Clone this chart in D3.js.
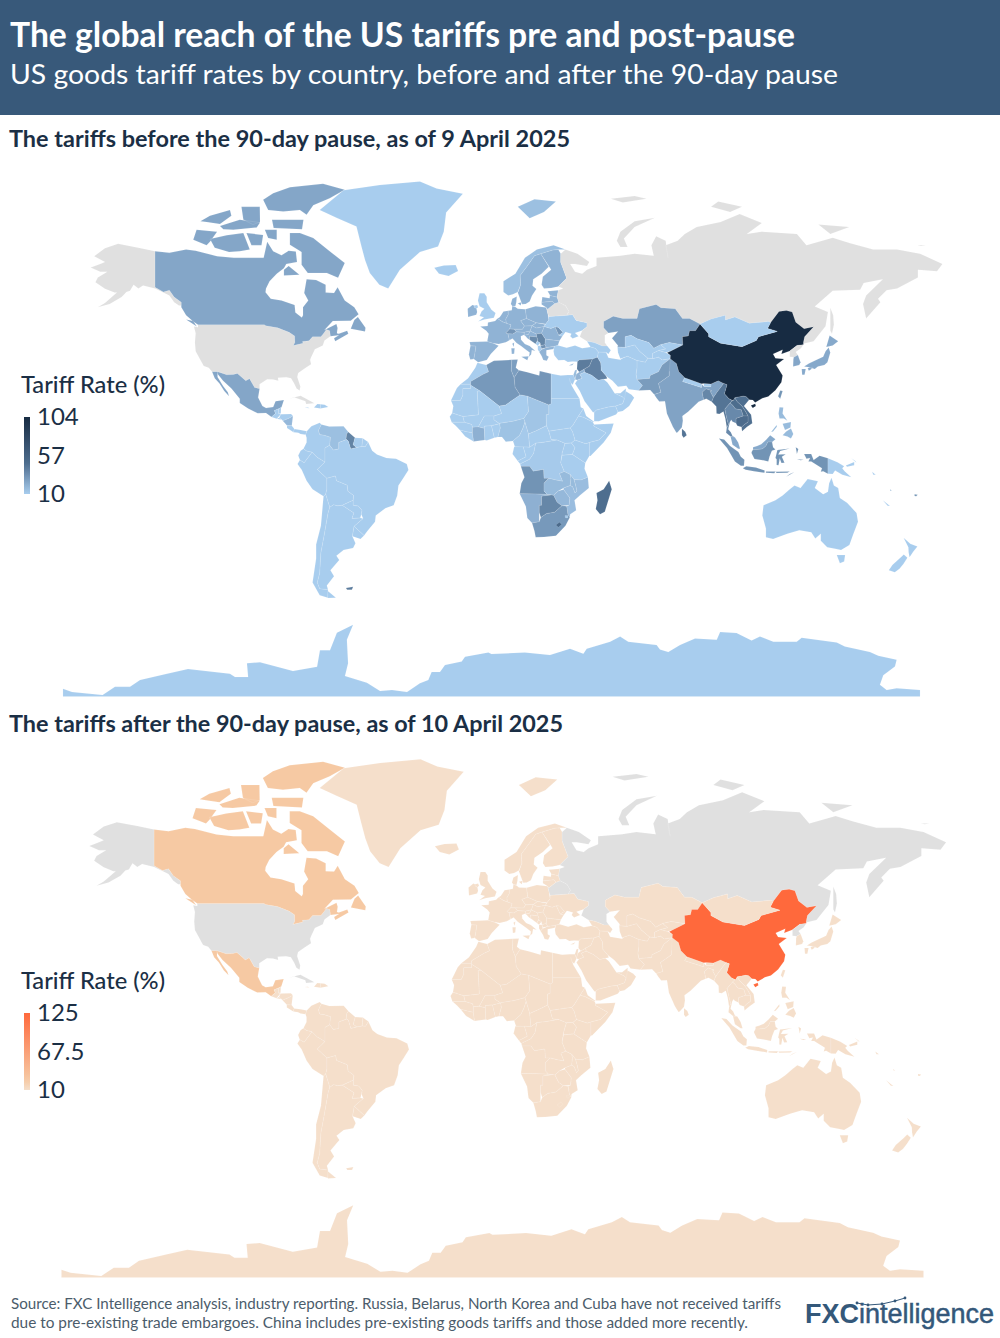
<!DOCTYPE html>
<html>
<head>
<meta charset="utf-8">
<script src="https://cdn.jsdelivr.net/npm/d3@7"></script>
<style>
html, body { margin: 0; padding: 0; background: #fff; }
svg { display: block; font-family: Lato, "Open Sans", sans-serif; }
</style>
</head>
<body>
<svg id="chart" width="1000" height="1338"></svg>
<script>
'use strict';

// Outlines are rough lon/lat rings: [name, ring, ring...]
var northAmerica = [
    ['United States',
     [[-141,69.6],[-148,70.4],[-156.5,71.3],[-162,70.3],[-166.5,68.4],[-162,67],[-164,66.5],[-168,65.6],[-164,64.5],[-161,64.5],[-165,63],[-166,61.7],[-162,59.9],[-158,58.8],[-157,58.8],[-162,55.8],[-165,54.5],[-160,55.5],[-155,57.5],[-153,59],[-151.5,59.3],[-150,61],[-148,60],[-146,60.8],[-141,60],[-138,59],[-135,58],[-133,56],[-131,55],[-130,55],[-130,56],[-133,57.5],[-135,59.5],[-137.5,59],[-141,60.3]],
     [[-123,49],[-95.2,49],[-94.6,48.7],[-89.6,48],[-84.8,46.5],[-82.5,45.3],[-82.4,43],[-83.1,42],[-79,42.8],[-79.2,43.4],[-76.5,43.6],[-75,45],[-71.5,45],[-70.3,46.2],[-69.2,47.4],[-67.8,47],[-67.5,45.2],[-70,43.7],[-70.7,42],[-74,40.7],[-75.5,38],[-76,36.9],[-75.6,35.3],[-78,33.9],[-81,32],[-81.4,30.5],[-80.1,26.8],[-80.4,25.2],[-81.7,26],[-82.7,28],[-84,30],[-86,30.4],[-89.5,30.2],[-89.3,29],[-91.5,29.5],[-94,29.6],[-97.2,27.7],[-97.2,25.9],[-99.3,26.4],[-101.4,29.8],[-103,29],[-104.8,30.5],[-106.5,31.8],[-108.2,31.4],[-111,31.3],[-114.8,32.5],[-117.1,32.5],[-118.5,34],[-120.6,34.6],[-122.4,37.5],[-124,40],[-124.3,43],[-124,46.2],[-124.7,48.4],[-123,48.2]]],
    ['Canada',
     [[-141,69.6],[-135,69.2],[-128,70],[-124,69.7],[-115,68.4],[-108,68],[-102,68],[-95.5,68],[-94,71.8],[-91.5,69.6],[-88,68.6],[-85,69.7],[-82,69.5],[-81.5,67],[-86,66.5],[-87,65.4],[-90,64],[-93,62],[-94.5,60],[-94.7,58.9],[-92.5,57],[-88,56.5],[-82.5,55.2],[-82.2,52.9],[-79.5,51.3],[-79,52],[-79,54.5],[-76.8,56.5],[-78.5,58.7],[-77.5,62.5],[-73.5,62.3],[-69.5,61],[-69.5,58.8],[-66,58.7],[-64.5,60.3],[-61.5,56.5],[-57.5,54.5],[-55.7,52.3],[-59,50.3],[-66.5,50.2],[-70,47.3],[-65,49.2],[-64.5,47.9],[-64.8,46.2],[-64,46],[-60.5,47],[-60,46],[-65.5,43.5],[-66,44.5],[-64,45.5],[-67.5,45.2],[-67.8,47],[-69.2,47.4],[-70.3,46.2],[-71.5,45],[-75,45],[-76.5,43.6],[-79.2,43.4],[-79,42.8],[-83.1,42],[-82.4,43],[-82.5,45.3],[-84.8,46.5],[-89.6,48],[-94.6,48.7],[-95.2,49],[-123,49],[-125,50],[-128,52],[-130,54.5],[-130,56],[-133,57.5],[-135,59.5],[-137.5,59],[-141,60.3]],
     [[-84.5,73.7],[-80.3,73.7],[-74.7,72.6],[-67.8,69.6],[-61.5,66.7],[-64.3,62.9],[-69,64.2],[-77,64.2],[-79.6,66.3],[-79.6,69.4],[-84.5,71.1]],
     [[-61.5,82.1],[-70.6,83.1],[-84.5,82.5],[-91.5,81.5],[-95.7,80.3],[-93.6,78.4],[-87.3,78.1],[-80.3,78.4],[-77.5,77.5],[-74.7,79.3],[-67.8,80.6]],
     [[-118,72.4],[-111,73.2],[-104,73.7],[-101.3,70],[-105.5,69.6],[-110,69.4],[-116,70.4]],
     [[-125,72.2],[-123.6,74.4],[-115,74],[-118,71.8],[-119.4,71]],
     [[-92,76.5],[-78.8,76.5],[-79.4,74.5],[-91.3,74.8]],
     [[-104.8,79],[-97.1,79],[-97,76],[-100,75.5],[-104,76.5]],
     [[-122,76.2],[-118,77.3],[-109.6,78.4],[-109,77.3],[-113.8,75.6],[-119.4,76]],
     [[-113.8,75.2],[-105.5,76.5],[-97,75.9],[-98.4,74.9],[-108.2,74.4],[-112.4,74.5]],
     [[-102.7,73.7],[-95.7,73.3],[-96.4,71],[-100.6,71]],
     [[-95,74.4],[-90,74.4],[-90,72.2],[-93.6,72.6]],
     [[-87,63.5],[-80.5,63.7],[-85,66],[-87,65]],
     [[-59,47.7],[-53,46.8],[-52.8,48],[-56,51.5],[-57.5,50.5]],
     [[-123.5,48.4],[-128,50.7],[-125,50.2]]],
    ['Greenland', [[-72,78.4],[-62,82],[-46.8,82.9],[-30,83.5],[-23,82.3],[-12,81.4],[-19,77.9],[-20,74],[-22.4,70.7],[-30,69.4],[-38.4,65],[-43.3,60],[-47,61],[-51,64.2],[-53,67.5],[-54.5,70.7],[-56.6,75.1],[-65,76.9]]],
    ['Iceland', [[-24,65.5],[-22,64],[-18,63.4],[-14,64.7],[-15,66.2],[-20,66.1]]],
    ['Mexico',
     [[-114.8,32.5],[-111,31.3],[-108.2,31.4],[-106.5,31.8],[-104.8,30.5],[-103,29],[-101.4,29.8],[-99.3,26.4],[-97.2,25.9],[-97.8,22.5],[-96,19],[-94.5,18.2],[-91.5,18.6],[-90.5,21],[-87,21.5],[-88,18.5],[-89.2,17.9],[-91,17.2],[-90.5,16],[-92.2,14.6],[-94.5,16.2],[-98,16.1],[-102,18],[-105.5,20.3],[-105.5,22],[-109,26],[-112.5,29],[-114.7,31.5]],
     [[-117.1,32.5],[-116,30],[-114,28],[-112,25],[-110,23],[-110.5,24.5],[-112.5,27],[-114.8,30.5],[-114.8,32.5]]],
    ['Guatemala', [[-92.2,14.6],[-90.5,16],[-91,17.2],[-89.2,17.9],[-89.2,15.9],[-88.3,15.7],[-90,13.8]]],
    ['Belize', [[-89.2,17.9],[-88.2,18.4],[-88.3,16],[-89.2,15.9]]],
    ['El Salvador', [[-90,13.8],[-89,14.3],[-87.8,13.4]]],
    ['Honduras', [[-89,14.3],[-88.3,15.7],[-84,15.8],[-83.2,15],[-85,14],[-87.5,13],[-87.8,13.4]]],
    ['Nicaragua', [[-87.5,13],[-85,14],[-83.2,15],[-83.7,11],[-85.7,11.1]]],
    ['Costa Rica', [[-85.7,11.1],[-83.7,11],[-82.6,9.6],[-83,8.3],[-85.7,10]]],
    ['Panama', [[-83,8.3],[-82.6,9.6],[-80,9.2],[-77.4,8.7],[-77.9,7.2],[-80,7.5],[-81,8]]],
    ['Cuba', [[-85,22],[-80,23.2],[-74.2,20.2],[-77.7,19.9],[-78,21],[-82.5,22.5]]],
    ['Haiti', [[-74.4,18.4],[-71.7,18],[-71.7,19.8],[-73,19.9]]],
    ['Dominican Republic', [[-71.7,18],[-68.4,18.6],[-69.9,19.6],[-71.7,19.8]]],
    ['Jamaica', [[-78.3,18.3],[-76.3,18.1],[-76.9,18.4]]]
];

var southAmerica = [
    ['Colombia', [[-77.9,7.2],[-77.4,8.7],[-75.5,10.7],[-72,12.2],[-71.3,11.5],[-72.5,9],[-72,7.3],[-70,7],[-67.5,6.2],[-67.8,2.8],[-69.8,1.7],[-69.8,-4.2],[-70.5,-3.8],[-73,-2.3],[-75.2,-0.1],[-77.5,0.4],[-78.8,1.4],[-77.5,4],[-77.5,6]]],
    ['Venezuela', [[-71.3,11.5],[-68,10.6],[-62,10.7],[-60,8.4],[-60.7,7.5],[-61,5.2],[-60.7,5.2],[-64,4],[-64,1.3],[-66.3,0.8],[-67.8,2.8],[-67.5,6.2],[-70,7],[-72,7.3],[-72.5,9]]],
    ['Guyana', [[-60,8.4],[-57.2,6],[-58,3],[-56.5,1.9],[-59,1.3],[-60,4.5],[-60.7,5.2],[-61,5.2],[-60.7,7.5]]],
    ['Suriname', [[-57.2,6],[-54,5.8],[-54.3,2.3],[-56.5,1.9],[-58,3]]],
    ['French Guiana', [[-54,5.8],[-51.7,4.2],[-52.9,2.2],[-54.3,2.3]]],
    ['Ecuador', [[-78.8,1.4],[-77.5,0.4],[-75.2,-0.1],[-78.5,-4.5],[-80.3,-3.4],[-81,-1.5],[-80,0.5]]],
    ['Peru', [[-80.3,-3.4],[-78.5,-4.5],[-75.2,-0.1],[-73,-2.3],[-70.5,-3.8],[-69.8,-4.2],[-73,-7.3],[-70.6,-9.5],[-69,-11],[-69,-15.5],[-69.5,-17.5],[-70.4,-18.3],[-75,-15.5],[-77.5,-12],[-79.5,-7.5],[-81.3,-5]]],
    ['Brazil', [[-51.7,4.2],[-50,0.5],[-48,-1],[-44,-2.5],[-40,-2.8],[-35.5,-5],[-34.8,-7.5],[-37,-11],[-39,-14],[-39.5,-18],[-41,-22],[-44.5,-23.2],[-48.5,-26],[-48.8,-28.5],[-52,-32],[-53.4,-33.7],[-57.6,-30.2],[-53.8,-27.2],[-54.6,-25.5],[-54.3,-24],[-55.8,-22.3],[-58,-22],[-58,-20],[-57.8,-18],[-60.2,-16.3],[-60.5,-13.8],[-65,-12],[-65.4,-10],[-69,-11],[-70.6,-9.5],[-73,-7.3],[-69.8,-4.2],[-69.8,1.7],[-67.8,2.8],[-66.3,0.8],[-64,1.3],[-64,4],[-60.7,5.2],[-60,4.5],[-59,1.3],[-56.5,1.9],[-54.3,2.3],[-52.9,2.2]]],
    ['Bolivia', [[-69,-11],[-65.4,-10],[-65,-12],[-60.5,-13.8],[-60.2,-16.3],[-57.8,-18],[-58,-20],[-62.6,-22],[-64.5,-22.2],[-66.2,-21.8],[-67.8,-22.8],[-69.5,-17.5],[-69,-15.5]]],
    ['Paraguay', [[-58,-20],[-58,-22],[-55.8,-22.3],[-54.3,-24],[-54.6,-25.5],[-55,-27],[-58.5,-27.2],[-57.7,-25],[-62.6,-22]]],
    ['Chile', [[-69.5,-17.5],[-67.8,-22.8],[-68.5,-25],[-70,-33],[-71.5,-40],[-72,-47],[-73,-50],[-72,-52],[-68.5,-52.3],[-68.6,-54.8],[-72,-54],[-75,-50],[-73.5,-42],[-73.5,-37],[-71.5,-30],[-70.4,-18.3]]],
    ['Argentina',
     [[-66.2,-21.8],[-64.5,-22.2],[-62.6,-22],[-57.7,-25],[-58.5,-27.2],[-55,-27],[-53.8,-27.2],[-57.6,-30.2],[-58.3,-34],[-57,-36.5],[-58,-38.3],[-62,-39],[-65,-41],[-63.8,-42.5],[-67.5,-46],[-66,-48],[-69,-51],[-68.5,-52.3],[-72,-52],[-73,-50],[-72,-47],[-71.5,-40],[-70,-33],[-68.5,-25],[-67.8,-22.8]],
     [[-68.6,-52.7],[-65.2,-54.8],[-68.6,-54.9]]],
    ['Uruguay', [[-57.6,-30.2],[-53.4,-33.7],[-54.9,-35],[-58.3,-34]]],
    ['Falkland Islands', [[-61,-51.8],[-58,-51.4],[-58.5,-52.3],[-60.5,-52.3]]]
];

var europe = [
    ['Portugal', [[-8.9,37],[-7.4,37.2],[-7,39],[-6.5,41.8],[-8.8,41.9],[-9.5,38.8]]],
    ['Spain', [[-8.8,41.9],[-6.5,41.8],[-7,39],[-7.4,37.2],[-5.6,36],[-2,36.8],[-0.3,39],[3,41.9],[0.7,42.8],[-1.8,43.4],[-9.2,43.2]]],
    ['France',
     [[-1.8,43.4],[0.7,42.8],[3,42.5],[6,43.1],[7.5,43.8],[6.9,46],[6,46.3],[7.6,47.6],[8.2,49],[6.2,49.5],[4.5,50],[2.5,51],[1.5,50.2],[-1.5,49.7],[-1.6,48.6],[-4.7,48.4],[-2.2,47],[-1.2,46]],
     [[8.7,42.6],[9.5,43],[9.3,41.5]]],
    ['Benelux', [[2.5,51],[4.5,50],[6.2,49.5],[6,50.8],[7,52.2],[7,53.4],[5,53.2],[4,52],[3.4,51.4]]],
    ['Germany', [[7,53.4],[8.5,53.6],[8.7,54.9],[10,54.6],[11,54],[14.2,53.9],[14.7,51],[12.2,50.3],[13.8,48.6],[13,47.5],[7.6,47.6],[8.2,49],[6.2,49.5],[6,50.8],[7,52.2]]],
    ['Denmark',
     [[8.1,55.5],[8.7,57],[10.6,57.7],[10.4,56],[10,54.8],[8.7,54.9]],
     [[11,55.7],[12.6,56],[12.2,55]]],
    ['Switzerland', [[6,46.3],[7.6,47.6],[9.6,47.5],[10.4,46.7],[9,45.9],[6.9,46]]],
    ['Italy',
     [[6.9,46],[9,45.9],[10.4,46.7],[13.7,46.5],[13.7,45.7],[12.3,45.2],[12.4,44],[14,42.5],[16,41.8],[18.4,40.1],[16.9,40.4],[16.6,38.8],[15.7,38],[16,39.5],[14,40.8],[12.4,41.8],[10.5,42.9],[8.8,44.4],[7.5,43.8]],
     [[12.5,38],[15.6,38.2],[15,36.7]],
     [[8.3,41],[9.7,41],[9.5,39.1],[8.5,39]]],
    ['Austria', [[9.6,47.5],[13,47.5],[13.8,48.6],[17,48.7],[16.2,46.9],[13.7,46.5],[10.4,46.7]]],
    ['Czechia', [[12.2,50.3],[14.7,51],[18.8,49.6],[17,48.7],[13.8,48.6]]],
    ['Poland', [[14.2,53.9],[18.5,54.8],[23,54.4],[23.6,52.5],[24,50.5],[22.7,49.2],[18.8,49.6],[14.7,51]]],
    ['Slovakia', [[17,48.7],[18.8,49.6],[22.5,49.1],[22.1,48.4],[18.8,47.9]]],
    ['Hungary', [[16.2,46.9],[17,48.7],[18.8,47.9],[22.1,48.4],[21,46.2],[18.8,45.9]]],
    ['Slovenia', [[13.7,46.5],[16.2,46.9],[15.5,45.8],[13.7,45.5]]],
    ['Croatia', [[13.7,45.5],[15.5,45.8],[16.2,46.9],[18.8,45.9],[19,44.9],[15.9,45.2],[16,44],[18.5,42.5],[15,44.5],[14.3,45.2]]],
    ['Bosnia', [[15.9,45.2],[19,44.9],[19.4,44],[18.5,42.5],[16,44]]],
    ['Serbia', [[18.8,45.9],[21,46.2],[22.6,44.2],[22.4,42.3],[20.6,41.9],[20.4,42.9],[19.2,43.5],[19.4,44],[19,44.9]]],
    ['Montenegro', [[18.5,42.5],[19.2,43.5],[20.4,42.9],[19.4,41.9]]],
    ['Albania', [[19.4,41.9],[20.6,41.9],[21,40.6],[20,39.7],[19.4,40.6]]],
    ['North Macedonia', [[20.6,41.9],[22.4,42.3],[23,41.3],[21,40.9]]],
    ['Greece', [[21,40.6],[23,41.3],[26.3,41.7],[26,40.8],[23,40.3],[23,38.5],[24,38],[23.2,36.5],[21.7,36.8],[21,38.3],[20,39.7]]],
    ['Bulgaria', [[22.4,42.3],[22.6,44.2],[28.5,43.6],[27.8,42],[26.3,41.7],[23,41.3]]],
    ['Romania', [[21,46.2],[22.1,48.4],[24.9,47.8],[26.6,48.3],[28.2,45.5],[29.7,45.2],[28.5,43.6],[22.6,44.2]]],
    ['Moldova', [[26.6,48.3],[28,48.2],[30,46.4],[28.2,45.5]]],
    ['Ukraine', [[24,50.5],[22.7,49.2],[22.1,48.4],[24.9,47.8],[26.6,48.3],[28,48.2],[30,46.4],[28.2,45.5],[29.7,45.2],[31,46.6],[33.5,46],[33,45.2],[34,44.4],[36.5,45.2],[35,46.3],[38,47.1],[40,48.3],[40,49.6],[35.5,50.4],[34,52.2],[31.5,52],[24,51.6]]],
    ['Belarus', [[23,54.4],[23.5,53.9],[26.5,55.6],[28.2,56],[31,55],[32.5,53.2],[31.5,52],[24,51.6],[23.6,52.5]]],
    ['Lithuania', [[21,55.3],[21,56],[25.5,56.3],[26.5,55.6],[23.5,53.9],[23,54.4]]],
    ['Latvia', [[21,56],[21.3,57.5],[24.3,57.2],[24.5,58],[27.5,57.5],[28.2,56],[26.5,55.6],[25.5,56.3]]],
    ['Estonia', [[24.3,58.3],[23.5,59.2],[28,59.5],[27.5,57.5],[24.5,58]]],
    ['Finland', [[22,60],[25,60.1],[28,60.5],[31.5,62.8],[29,66.9],[29,69],[28,70],[25.7,69.9],[20.6,69],[24,66],[25,65],[21.5,63.2],[21,61]]],
    ['Sweden', [[11.2,59],[11,58.8],[12.8,55.4],[14.3,55.5],[16,56.2],[17,58],[18.8,59.8],[17.2,60.7],[17.5,62.5],[21,64],[24,65.8],[20.6,69],[18,68.5],[15,66],[12,63.5],[12.2,61]]],
    ['Norway',
     [[5,59],[7,58],[9,58.3],[11,59],[12.2,61],[12,63.5],[15,66],[18,68.5],[20.6,69],[25.7,69.9],[28,70],[31,70],[26,71],[19,70],[14,68],[10,64],[5,62]],
     [[11,79],[16,76.8],[22,78],[27,80],[18,80.4]]],
    ['United Kingdom',
     [[-5,58.6],[-3,58.6],[-2,57.6],[-2,56],[0,53.7],[1.7,52.7],[1,51.2],[-3,50.7],[-5.6,50],[-3.2,51.4],[-5,51.8],[-4.2,53.2],[-3,54],[-5,54.8],[-5.7,56.5]],
     [[-7.3,55],[-6,55.2],[-5.6,54.5],[-6.3,54.1],[-7.3,54.5]]],
    ['Ireland', [[-10,54],[-8,55.2],[-7.3,55],[-7.3,54.5],[-6.3,54.1],[-6,53],[-6.4,52.2],[-9.8,51.5]]],
    ['Russia',
     [[28,59.5],[30,60],[28,60.5],[31.5,62.8],[29,66.9],[29,69],[31,70],[36,69],[41,67],[40,66],[35,66.5],[33,66.5],[35,64.5],[38,64],[40,65],[44,66],[44,68],[54,68.5],[60,69],[68,68.5],[67,71],[69,73],[73,72],[74,68],[73,71],[78,72],[81,73.5],[86,75],[96,76],[104,77.6],[113.3,75.8],[107,73.5],[113,74],[128,73.5],[132,71],[143,72.7],[150,71.5],[160,70],[170,70],[179.6,69],[189,66.5],[186.7,64.6],[178.7,65],[178.7,63],[170,60],[165.6,59.5],[162,57],[163,56],[157,51],[155.7,55.5],[157,58],[164,62.5],[156,61.5],[154.5,59.6],[143,59.3],[135.5,54.7],[141,53],[140,48.5],[135,43.5],[131,42.7],[130.7,42.3],[130.7,43],[131.2,45],[135,48.3],[131,47.7],[127.5,49.8],[126,53],[123.6,53.5],[120.5,53.2],[117,49.7],[116,50],[108,49.5],[102,51.5],[98,50.5],[98,52],[92,50.8],[87.4,49.2],[83,51],[80,51],[77,54],[71,54.3],[69,55.3],[62,54],[61,51],[55,51],[51,51.7],[47,50],[47,48],[49,46.3],[47.5,45.5],[47.5,43],[48.5,41.8],[46.5,41.8],[43,43],[40,43.5],[37,45],[38,47.1],[40,48.3],[40,49.6],[35.5,50.4],[34,52.2],[31.5,52],[32.5,53.2],[31,55],[28.2,56],[27.5,57.5]],
     [[142,54.3],[143.2,52],[143.5,49],[142.7,46],[142,47],[142,51]],
     [[52.5,72],[54,70.6],[57,70.6],[55.5,72.5],[60,75],[68.5,76.9],[60,76.2],[54,74]],
     [[95,80],[105,79],[100,78],[92,79]],
     [[137,75.5],[150,75],[142,73.5]],
     [[178.5,71],[182,71],[180,70.8]],
     [[50,80.5],[60,81],[65,80.5],[55,79.8]]]
];

var asia = [
    ['Turkey', [[26,40],[26.3,41.7],[28,42],[31.5,41.2],[35,42],[38,41],[41.5,41.5],[43.5,41],[44.8,39.7],[44.4,37.8],[42.3,37.2],[36.7,36.8],[36,36.2],[34,36.3],[32,36.1],[30.5,36.8],[28,36.7],[26.3,38.5]]],
    ['Cyprus', [[32.4,34.8],[34.5,35.6],[33.8,34.9]]],
    ['Syria', [[36,36.2],[36.7,36.8],[42.3,37.2],[41,34.5],[38.8,33.4],[36.8,32.4],[35.8,33.5]]],
    ['Iraq', [[42.3,37.2],[44.4,37.8],[45.8,35.8],[46,33],[48,30.9],[48.5,29.9],[47,29.6],[44.7,29.2],[42,31.1],[39,32.3],[38.8,33.4],[41,34.5]]],
    ['Jordan', [[36.8,32.4],[38.8,33.4],[39,32.3],[37,31.5],[38,30],[36,29.3],[35,29.5],[35.5,31.5]]],
    ['Israel', [[35,29.5],[35.5,31.5],[35.8,33.2],[35,33],[34.3,31.2]]],
    ['Saudi Arabia', [[36,29.3],[38,30],[37,31.5],[39,32.3],[42,31.1],[44.7,29.2],[47,29.6],[48.5,28.5],[50,26.5],[51.6,24.2],[55,22.7],[55.7,22],[55,20],[52,19],[49,18.6],[44,17.4],[43,16.5],[42.5,16.5],[39,21],[37,25],[35,28]]],
    ['Yemen', [[43,12.8],[45,12.8],[52.2,15.6],[53,16.6],[52,19],[49,18.6],[44,17.4],[43,16.5]]],
    ['Oman', [[55,22.7],[56.3,24.9],[58.7,23.6],[59.8,22.4],[57.7,19],[55,17],[53,16.6],[52,19],[55,20],[55.7,22]]],
    ['UAE', [[51.6,24.2],[54,24.2],[56.3,26],[56.3,24.9],[55.7,22],[55,22.7]]],
    ['Iran', [[44.8,39.7],[48,39.6],[49,37.6],[54,36.9],[54.7,37.4],[57,38.2],[61,36.6],[61,34],[60.6,31.5],[61,29.5],[63.3,27.2],[61.6,25.2],[57.5,25.7],[56.5,27.1],[53,26.7],[50.7,29],[48.8,30.3],[48,30.9],[46,33],[45.8,35.8],[44.4,37.8]]],
    ['Caucasus', [[41.5,41.5],[40,43.5],[43,43],[46.5,41.8],[48.5,41.8],[50,40.3],[49,39],[48,39.6],[44.8,39.7],[43.5,41]]],
    ['Kazakhstan', [[51,51.7],[55,51],[61,51],[62,54],[69,55.3],[71,54.3],[77,54],[80,51],[83,51],[87.4,49.2],[85.5,47],[83,47],[82.5,45.3],[80,45],[80.2,42.2],[74.5,43],[70.9,42.3],[68,41],[66,43],[61,44.3],[58.5,45.5],[56,45],[56,41.3],[52.8,41.5],[53,42],[50.5,44.5],[53,46.8],[49,46.3],[47,48],[47,50]]],
    ['Uzbekistan', [[56,45],[58.5,45.5],[61,44.3],[66,43],[68,41],[70.9,42.3],[73,40.8],[70,40.2],[67.5,39.2],[67.5,37.3],[65.5,37.5],[62,40],[60,42.2],[56,41.3]]],
    ['Turkmenistan', [[52.8,41.5],[56,41.3],[60,42.2],[62,40],[65.5,37.5],[64.5,36],[61,36.6],[57,38.2],[54,37.3],[53,39.5]]],
    ['Kyrgyzstan', [[70.9,42.3],[74.5,43],[80.2,42.2],[75,40],[73,39.5],[70,40.2],[73,40.8]]],
    ['Tajikistan', [[67.5,39.2],[70,40.2],[73,39.5],[75,38.5],[74.9,37.3],[71.5,36.8],[70,37.8],[67.5,37.3]]],
    ['Afghanistan', [[61,36.6],[64.5,36],[65.5,37.5],[67.5,37.3],[70,37.8],[71.5,36.8],[74.9,37.3],[71.5,35],[70,32.5],[66.5,31],[66.3,29.9],[61,29.5],[60.6,31.5],[61,34]]],
    ['Pakistan', [[61.6,25.2],[63.3,27.2],[61,29.5],[66.3,29.9],[66.5,31],[70,32.5],[71.5,35],[74.9,37.3],[77.5,35.5],[74.5,32.5],[74.5,30.9],[70,28],[71,24.5],[68.2,23.7],[66.5,25.4]]],
    ['India', [[74.9,37.3],[77.5,35.5],[78.5,32.5],[81,30.2],[80.1,28.7],[88,26.4],[88,27.9],[89,26.8],[92,26.8],[92,27.8],[95,29],[97.3,28],[94.5,24.5],[93,22.5],[91.7,24.8],[92.3,25.1],[89.9,25.9],[88.3,24.5],[88.9,21.6],[86.8,20.8],[82.4,16.7],[80,15],[80.2,13],[79.8,10.3],[78,8.3],[77.5,8.1],[76,10.5],[73.5,16],[72.7,21],[70.3,20.9],[69,22.5],[68.2,23.7],[71,24.5],[70,28],[74.5,30.9],[74.5,32.5]]],
    ['Nepal', [[80.1,28.7],[81,30.2],[88,27.9],[88,26.4]]],
    ['Bhutan', [[89,26.8],[89,28],[92,27.8],[92,26.8]]],
    ['Bangladesh', [[88.3,24.5],[89.9,25.9],[92.3,25.1],[91.7,24.8],[93,22.5],[92.3,20.8],[90,22],[88.9,21.6]]],
    ['Sri Lanka', [[79.8,9.7],[81.2,8.5],[81.8,7],[80.5,6],[79.8,7]]],
    ['China',
     [[73.6,39.4],[75,40],[80.2,42.2],[80,45],[82.5,45.3],[83,47],[85.5,47],[87.4,49.2],[91,46],[91,45],[96,42.8],[105,41.6],[111,43.7],[111.9,45],[119.8,46.8],[115.7,47.8],[117,49.7],[120.5,53.2],[123.6,53.5],[126,53],[127.5,49.8],[131,47.7],[135,48.3],[131.2,45],[130.7,43],[130.7,42.3],[128,42],[125,40.1],[121.5,39],[122,40.5],[118,39],[119,37.5],[122.6,37.2],[119.3,35],[122,31],[121.5,28.5],[119,25.3],[116,22.9],[113.5,22.2],[110.5,20.5],[109.5,21.5],[108,21.6],[106.7,22.8],[105.5,23],[102,22.4],[101.3,21.2],[99.5,22],[97.6,24],[98.7,27.5],[97.3,28],[95,29],[92,27.8],[89,28],[88,27.9],[81,30.2],[78.5,32.5],[77.5,35.5],[74.9,37.3],[75,38.5]],
     [[108.7,19.3],[110.5,20],[110.8,19],[109.5,18.2]]],
    ['Taiwan', [[120.1,23],[121,25.2],[122,25],[121,22]]],
    ['Mongolia', [[87.4,49.2],[92,50.8],[98,52],[98,50.5],[102,51.5],[108,49.5],[116,50],[117,49.7],[115.7,47.8],[119.8,46.8],[111.9,45],[111,43.7],[105,41.6],[96,42.8],[91,45],[91,46]]],
    ['North Korea', [[125,40.1],[128,42],[130.7,42.3],[129.7,41],[127.5,39.7],[128.4,38.6],[126.7,37.8],[125,38]]],
    ['South Korea', [[126.7,37.8],[128.4,38.6],[129.5,36],[129,35],[126.4,34.4],[126.5,37]]],
    ['Japan',
     [[131,34.4],[133,35.5],[136.5,37],[139,38],[140,40],[141.3,41.3],[142,39.5],[140.8,36],[139.5,35],[136.8,34.4],[135.5,33.5],[132.5,34.2]],
     [[140.3,41.5],[141.7,45.4],[145.3,43.5],[143,42]],
     [[130,33.5],[131.7,33.5],[131.2,31.3],[130.2,31.3]],
     [[132.5,33.8],[134.5,34.2],[134,33.4],[133,32.8]]],
    ['Myanmar', [[97.3,28],[98.7,27.5],[97.6,24],[99.5,22],[101,21.2],[100,20.3],[97.8,17.8],[98.5,14.5],[99.3,11.5],[98.6,10.2],[98,14],[97.2,16.8],[95.5,15.8],[94.3,16],[94.2,18.8],[92.3,20.8],[93,22.5],[94.5,24.5]]],
    ['Thailand', [[100,20.3],[101,19.5],[102.2,17.9],[104.7,17.5],[105.5,15],[102.5,14],[102.5,12],[100.9,12.7],[100.5,13.4],[99.9,12.5],[99.2,9.5],[100.3,8.3],[101,6.7],[102,6.2],[100.2,6.5],[98.3,8],[98.6,10.2],[99.3,11.5],[98.5,14.5],[97.8,17.8]]],
    ['Laos', [[101.3,21.2],[102,22.4],[103,20.8],[105,19],[106.5,16.8],[107.5,15],[105.5,15],[104.7,17.5],[102.2,17.9],[101,19.5],[100,20.3],[101,21.2]]],
    ['Vietnam', [[102,22.4],[105.5,23],[106.7,22.8],[108,21.6],[105.8,19],[108.8,15.5],[109.3,12],[107,10.4],[105,8.7],[104.8,10.4],[106,11.5],[107.5,12.5],[107.5,15],[106.5,16.8],[105,19],[103,20.8]]],
    ['Cambodia', [[102.5,14],[105.5,15],[107.5,15],[107.5,12.5],[106,11.5],[104.8,10.4],[103,11],[102.5,12]]],
    ['Malaysia',
     [[100.2,6.5],[102,6.2],[103.4,4],[104.2,1.4],[103.4,1.4],[101,3],[100.4,5.5]],
     [[109.6,2],[111.3,2.5],[113,3.2],[115,5],[116.8,7],[119,5.3],[117.6,4.2],[115.8,4.2],[115,2.5],[113.5,1.3],[111,1],[109.6,1]]],
    ['Indonesia',
     [[109,0],[109.6,1],[111,1],[113.5,1.3],[115,2.5],[115.8,4.2],[117.6,4.2],[118,2],[119,1],[117.5,0.5],[116.5,-2],[116,-4],[113,-3.3],[110.2,-2.9],[109,-0.5]],
     [[95.3,5.6],[97.5,5.2],[100,2.5],[103.5,0],[104.5,-2],[106,-3.2],[105.8,-5.8],[104.5,-5.8],[102,-4],[100.3,-1],[98.7,1.7]],
     [[105.3,-6.8],[106.8,-6],[110.8,-6.5],[114.5,-7.7],[114.4,-8.7],[110,-8],[106.5,-7.4]],
     [[119.8,0.8],[125,1.5],[121,0.4],[120.2,-1],[123.3,-0.9],[121.7,-2],[122.8,-4.5],[121.5,-4.6],[120.8,-2.7],[120.3,-5.5],[119.5,-5.4],[119.5,-3],[119,-2.5]],
     [[115,-8.2],[119,-8.2],[118.5,-8.9],[115,-8.7]],
     [[119,-8.3],[125,-8.2],[124,-8.7],[119.5,-8.8]],
     [[123.5,-10.3],[127,-8.4],[125,-9.2]],
     [[127.5,2],[128.6,1.3],[128,-0.8]],
     [[128,-3],[130.8,-3.2],[129.5,-3.5]],
     [[131,-0.8],[134,-0.8],[135,-3.3],[137.5,-1.6],[141,-2.6],[141,-9.1],[139,-8],[138,-8.3],[138.5,-6.8],[134,-4],[132.8,-4],[133.5,-2.5],[132,-2.8]]],
    ['Philippines',
     [[120.3,16],[120.7,18.5],[122.3,18.4],[122,16],[124,13],[122.5,14],[120.7,14]],
     [[122,7],[123.5,8.6],[125.5,9.8],[126.5,7.5],[125.5,5.7],[124,6.5]],
     [[122,11.8],[125.5,12.5],[125.3,10.2],[123,9.2]],
     [[117.2,8.4],[119.5,11.3],[119.6,10.5],[118,8.6]]]
];

var oceania = [
    ['Papua New Guinea',
     [[141,-2.6],[145,-4.3],[147.8,-6],[147,-6.8],[148,-8],[150.8,-10.5],[147,-9.5],[144,-7.7],[143,-9.2],[141,-9.1]],
     [[148.5,-5.6],[152,-4.2],[152,-5.5],[149,-6.2]],
     [[150.8,-2.6],[153,-4.5],[152.5,-3.8]]],
    ['Solomon Islands', [[159.5,-8.3],[161,-9.5],[160,-9.5]]],
    ['Vanuatu', [[167,-15.5],[167.8,-16.2],[167,-16]]],
    ['Fiji', [[177.3,-17.5],[178.6,-17.7],[178,-18.3],[177.3,-18.2]]],
    ['New Caledonia', [[164,-20],[167,-22.3],[166,-22.2]]],
    ['Australia',
     [[114,-22],[113.5,-26],[115,-31],[115,-34.3],[118,-35],[124,-33],[129,-31.7],[134,-32.5],[135.7,-34.8],[138,-33],[138,-35.6],[140.7,-38],[144,-38.5],[146.5,-39],[150,-37.2],[151.5,-33.5],[153.6,-28.5],[153,-25],[149,-21],[146,-19],[145.3,-15],[143.5,-14],[142.5,-10.8],[141.5,-13],[141,-16.5],[139,-17.5],[135.5,-15],[136.8,-12.2],[132.5,-11.3],[129.5,-15],[127,-14],[125,-15.5],[122,-18],[119,-20]],
     [[144.7,-40.8],[148.2,-40.8],[147.8,-43],[146,-43.6]]],
    ['New Zealand',
     [[172.7,-34.5],[175.5,-36.7],[178.5,-37.7],[176.8,-39.5],[175.2,-41.6],[174.8,-39.8],[174.7,-38]],
     [[172.8,-40.6],[174.3,-41.7],[172.7,-43.8],[171,-45.5],[169,-46.7],[166.5,-46],[168,-44.2],[171,-42]]],
    ['Antarctica', [[-179.6,-77.4],[-175.8,-78],[-163,-78.6],[-157.8,-77],[-151.5,-77],[-147.3,-75.6],[-136,-74.3],[-127.2,-73.3],[-109.6,-74.3],[-107.5,-75],[-102,-75],[-102.5,-72],[-97,-71.8],[-83.2,-73.7],[-73.1,-72.8],[-71.9,-69],[-67.7,-69],[-64.8,-64.6],[-58,-62.5],[-60.6,-66.4],[-60.1,-72],[-61.4,-74.8],[-52.2,-76.2],[-46.7,-77.8],[-41.7,-77.6],[-35.4,-78],[-30,-76.3],[-26.5,-75.6],[-25.1,-73.9],[-21.6,-73.9],[-19.5,-72.4],[-12.5,-71.6],[-11.1,-70.5],[-1.3,-69.5],[0,-69.9],[14,-69.5],[24.5,-70.1],[32.9,-68.6],[38.5,-69.8],[39.9,-68.6],[49.7,-66.9],[53.9,-65.6],[57.3,-66.9],[69.2,-67.7],[70.6,-68.8],[74.1,-69.4],[79,-67.7],[85.3,-66.1],[94.4,-66.4],[95.8,-64.4],[102.7,-64.7],[109,-66.6],[112.5,-65.6],[118.1,-66.9],[127.9,-66.9],[130,-65.9],[144.7,-67.1],[148.1,-68.1],[158.6,-69.4],[162.1,-70.3],[169.8,-71.2],[169.1,-72.7],[164.2,-74.6],[162.8,-76.6],[165.6,-77.6],[169.8,-77.3],[179.6,-77.6],[179.6,-78.9],[-179.6,-78.9]]]
];

var africa = [
    ['Morocco', [[-5.9,35.8],[-2.2,35],[-1.2,32.5],[-3.5,31.5],[-8.7,28.7],[-8.7,27.7],[-13,27.7],[-9.8,30],[-6.8,34]]],
    ['Western Sahara', [[-13,27.7],[-8.7,27.7],[-8.7,26],[-12,26],[-12,23.4],[-13,21.3],[-17,21.3],[-14.5,26.2]]],
    ['Algeria', [[-2.2,35],[1,36.5],[8.5,36.9],[8.3,33],[9.5,30.2],[9.9,26.5],[12,23.5],[5.8,19.4],[3.2,19],[-4.8,25],[-8.7,27.3],[-8.7,28.7],[-3.5,31.5],[-1.2,32.5]]],
    ['Tunisia', [[8.5,36.9],[11,37],[10.2,34],[11.5,33],[9.5,30.2],[8.3,33]]],
    ['Libya', [[11.5,33],[15,32.3],[20,31],[20.2,32.7],[25,31.7],[25,20],[24,19.5],[15,23],[12,23.5],[9.9,26.5],[9.5,30.2]]],
    ['Egypt', [[25,31.7],[29,31],[32,31.2],[34.3,31.2],[35,29.5],[34,27.5],[33,28.5],[32.6,30],[33.7,27],[36.9,22],[25,22]]],
    ['Sudan', [[25,22],[36.9,22],[37.4,18.5],[38.5,18],[36.5,15],[34,11],[33,10],[28,9.3],[24,8.7],[23,11],[22.9,15.5],[24,15.7],[24,19.5],[25,20]]],
    ['South Sudan', [[24,8.7],[28,9.3],[33,10],[34,8.5],[35,5],[33.5,3.8],[30.8,3.6],[27.5,5],[25,5.2]]],
    ['Chad', [[15,23],[24,19.5],[24,15.7],[22.9,15.5],[23,11],[19,9],[15.5,7.5],[14,12.5],[13.5,14],[15.5,16.8]]],
    ['Niger', [[12,23.5],[15,23],[15.5,16.8],[13.5,14],[9,12.8],[3.7,12],[3.4,11.8],[1,13.4],[1,15],[4.2,16],[3.2,19],[5.8,19.4]]],
    ['Mali', [[-6,25],[-4.8,25],[3.2,19],[4.2,16],[1,15],[-3,15],[-5.5,10.5],[-8,10.3],[-8.3,11.5],[-11.4,12.4],[-12,14.8],[-5.5,15.5]]],
    ['Mauritania', [[-8.7,27.3],[-4.8,25],[-6,25],[-5.5,15.5],[-12,14.8],[-16.5,16.2],[-16,19],[-17,21.3],[-13,21.3],[-12,23.4],[-12,26],[-8.7,26]]],
    ['Senegal', [[-16.5,16.2],[-12,14.8],[-11.4,12.4],[-16.7,12.4],[-17.5,14.7]]],
    ['Guinea', [[-16.7,12.4],[-11.4,12.4],[-8.3,11.5],[-8,10.3],[-8,8],[-10.5,8.5],[-13.3,9.2],[-15,11]]],
    ['Liberia', [[-13.3,9.2],[-10.5,8.5],[-8,8],[-7.5,4.4],[-11,6.5]]],
    ["Cote d'Ivoire", [[-8,10.3],[-5.5,10.5],[-3,9.9],[-2.8,5],[-7.5,4.4],[-8,8]]],
    ['Burkina Faso', [[-5.5,10.5],[-3,15],[1,15],[1,13.4],[3.4,11.8],[0,11],[-3,10.8],[-3,9.9]]],
    ['Ghana', [[-3,10.8],[0,11],[1.2,6],[-2,4.8],[-2.8,5],[-3,9.9]]],
    ['Benin', [[0,11],[3.4,11.8],[3.7,10],[2.7,6.3],[1.2,6]]],
    ['Nigeria', [[3.7,12],[9,12.8],[13.5,14],[14,12.5],[13.2,10],[11.8,7],[9,4.6],[6,4.3],[4.4,6.3],[2.7,6.3],[3.7,10],[3.4,11.8]]],
    ['Cameroon', [[14,12.5],[15.5,7.5],[16,2],[9.8,2.2],[9,4.6],[11.8,7],[13.2,10]]],
    ['Central African Republic', [[15.5,7.5],[19,9],[23,11],[24,8.7],[25,5.2],[27.5,5],[22,4.1],[18.5,3.7],[16,2]]],
    ['Gabon', [[9.5,2.2],[13.3,2.2],[14.5,-2],[11,-3.8],[8.8,-0.8]]],
    ['Congo', [[13.3,2.2],[16,2],[18.5,3.7],[17.7,-0.5],[16,-3],[12,-5],[11,-3.8],[14.5,-2]]],
    ['DR Congo', [[18.5,3.7],[22,4.1],[27.5,5],[30.8,3.6],[29.6,-0.5],[29,-4.5],[30.5,-8.2],[28.5,-9],[29.8,-12.2],[27,-11.7],[24,-11],[22,-11],[21.8,-7.3],[17.5,-8],[16,-6],[12.3,-6],[12,-5],[16,-3],[17.7,-0.5]]],
    ['Uganda', [[30.8,3.6],[33.5,3.8],[35,1.8],[33.9,-1],[29.6,-1.4],[29.6,-0.5]]],
    ['Kenya', [[33.9,-1],[35,1.8],[33.5,3.8],[35,5],[39.5,3.5],[41,4],[41,-1.7],[39.3,-4.6]]],
    ['Tanzania', [[29.6,-1.4],[33.9,-1],[39.3,-4.6],[39,-7],[40.4,-10.5],[37.5,-11.7],[34.6,-11.5],[33,-9.4],[30.5,-8.2],[29,-4.5]]],
    ['Ethiopia', [[34,8.5],[33,10],[34,11],[36.5,15],[38.5,14.5],[42.5,12.5],[43,11.5],[42.8,10.9],[48,8],[45,5],[41,4],[39.5,3.5],[35,5]]],
    ['Eritrea', [[36.5,15],[38.5,18],[39.7,15],[43,12.6],[42.5,12.5],[38.5,14.5]]],
    ['Somalia', [[43,11.5],[51.2,11.9],[50,8],[47,4],[41.5,-1.7],[41,-1.7],[41,4],[45,5],[48,8],[42.8,10.9]]],
    ['Angola', [[12.3,-6],[16,-6],[17.5,-8],[21.8,-7.3],[22,-11],[24,-11],[22,-13],[22,-16.2],[23.4,-17.6],[18.5,-17.4],[11.8,-17.3],[12.5,-13],[13.8,-10.5]]],
    ['Zambia', [[22,-13],[24,-11],[27,-11.7],[29.8,-12.2],[28.5,-9],[30.5,-8.2],[33,-9.4],[33.3,-11],[33,-14],[30.2,-15],[28,-16.2],[26,-17.9],[23.4,-17.6],[22,-16.2]]],
    ['Malawi', [[33,-9.4],[34.6,-11.5],[35.3,-14],[35.8,-16.2],[35,-17],[34,-14.5],[33,-14],[33.3,-11]]],
    ['Mozambique', [[34.6,-11.5],[37.5,-11.7],[40.4,-10.5],[40.8,-15],[37,-18],[34.8,-20],[35.5,-24],[33,-25.5],[32.8,-26.8],[32,-25.5],[31.5,-22.4],[32.5,-22],[32.8,-19],[30.2,-15.6],[30.2,-15],[33,-14],[34,-14.5],[35,-17],[35.8,-16.2],[35.3,-14]]],
    ['Zimbabwe', [[26,-17.9],[28,-16.2],[30.2,-15.6],[32.8,-19],[32.5,-22],[29.5,-22.2],[27.5,-20.8]]],
    ['Namibia', [[11.8,-17.3],[18.5,-17.4],[23.4,-17.6],[25,-17.8],[21,-18.3],[21,-22],[20,-22],[20,-28.5],[17,-28.9],[15,-27],[14.4,-22.5]]],
    ['Botswana', [[21,-18.3],[25,-17.8],[26,-17.9],[27.5,-20.8],[29.5,-22.2],[26.5,-24.7],[23,-25.3],[20.7,-26.8],[20,-24.8],[20,-22],[21,-22]]],
    ['South Africa', [[17,-28.9],[20,-28.5],[20.7,-26.8],[23,-25.3],[26.5,-24.7],[29.5,-22.2],[31.5,-22.4],[32,-25.5],[32.8,-26.8],[31,-30],[27,-33.8],[22,-34.2],[18.5,-34.3],[18,-32]]],
    ['Lesotho', [[27,-29.7],[28.5,-28.6],[29.4,-29.5],[28,-30.6]]],
    ['Eswatini', [[30.8,-26],[32,-26],[32,-27],[31,-27]]],
    ['Madagascar', [[49.3,-12],[50.4,-15.5],[47.5,-24.5],[45.5,-25.5],[43.7,-23.5],[44.4,-20],[44,-17],[47,-15.5]]]
];

// Anything not listed gets the 10% baseline
var baseRate = 10;
var noTariff = ['United States', 'Russia', 'Belarus', 'North Korea', 'Cuba'];
var euMembers = ['Portugal','Spain','France','Benelux','Germany','Denmark','Italy','Austria','Czechia','Poland','Slovakia','Hungary','Slovenia','Croatia','Greece','Bulgaria','Romania','Lithuania','Latvia','Estonia','Finland','Sweden','Ireland','Cyprus'];
var ratesBefore = [
    ['Canada',25],['Mexico',25],['China',104],['Nicaragua',18],['Venezuela',15],['Guyana',38],['Falkland Islands',41],
    ['Switzerland',31],['Bosnia',35],['Serbia',37],['North Macedonia',33],['Moldova',31],['Norway',15],
    ['Syria',41],['Iraq',39],['Jordan',20],['Israel',17],['Kazakhstan',27],['Pakistan',29],['India',26],['Bangladesh',37],['Sri Lanka',44],
    ['Taiwan',32],['South Korea',25],['Japan',24],['Myanmar',44],['Thailand',36],['Laos',48],['Vietnam',46],['Cambodia',49],['Malaysia',24],['Indonesia',32],['Philippines',17],
    ['Vanuatu',22],['Fiji',32],['Algeria',30],['Tunisia',28],['Libya',31],["Cote d'Ivoire",21],['Nigeria',14],['Chad',13],['Cameroon',11],['DR Congo',11],
    ['Angola',32],['Zambia',17],['Malawi',17],['Mozambique',16],['Zimbabwe',18],['Namibia',21],['Botswana',37],['South Africa',30],['Lesotho',50],['Madagascar',47]
];
var ratesAfter = [['Canada',25],['Mexico',25],['China',125]];

var beforeTicks = [10, 57, 104];
var afterTicks = [10, 67.5, 125];
var beforeStops = [10, 25, 46, 104];
var afterStops = [10, 25, 125];

var MAP_BLUE = ['#a8cdee', '#84a6c8', '#4f6f90', '#172b42'];
var MAP_ORANGE = ['#f5dfcb', '#f6c9a3', '#ff693c'];
var NO_TARIFF = '#e0e0e0';
var INK = '#1b2f45';

var allShapes = [].concat(northAmerica, southAmerica, europe, asia, oceania, africa);
var svg = d3.select('#chart');

function fitText(x, y, size, width, weight, color, str) {
    return svg.append('text').attr('x', x).attr('y', y)
        .attr('font-size', size).attr('font-weight', weight).attr('fill', color)
        .attr('textLength', width).attr('lengthAdjust', 'spacingAndGlyphs')
        .text(str);
}

function millerY(lat) {
    return 1.25 * Math.log(Math.tan(Math.PI / 4 + 0.4 * lat * Math.PI / 180));
}

function rateLookup(rates) {
    var lookup = new Map(rates);
    euMembers.forEach(function(n) { if (!lookup.has(n)) lookup.set(n, 20); });
    return lookup;
}

function drawMap(opt) {
    var g = svg.append('g');
    var lon = d3.scaleLinear().domain([-180, 180]).range(opt.xRange);
    var k = (opt.xRange[1] - opt.xRange[0]) / (2 * Math.PI);
    var yOf = d3.scaleLinear().domain([0, 1]).range([opt.equator, opt.equator - k]);
    var path = d3.geoPath(d3.geoTransform({
        point: function(x, y) {
            this.stream.point(lon(x), yOf(millerY(y)));
        }
    }));
    var color = d3.scaleLinear().domain(opt.stops).range(opt.colors);
    var lookup = opt.lookup;

    g.selectAll('path').data(allShapes).join('path')
        .attr('d', function(d) {
            return path({
                type: 'MultiPolygon',
                coordinates: d.slice(1).map(function(r) { return [r.concat([r[0]])]; })
            });
        })
        .attr('fill', function(d) {
            if (noTariff.indexOf(d[0]) >= 0) return NO_TARIFF;
            return color(lookup.has(d[0]) ? lookup.get(d[0]) : baseRate);
        })
        .attr('stroke', '#fff')
        .attr('stroke-opacity', 0.22)
        .attr('stroke-width', 0.5);

    // legend
    var ly = d3.scaleLinear().domain(d3.extent(opt.ticks)).range([opt.legendBottom, opt.legendTop]);
    var gradId = 'grad-' + opt.id;
    var grad = svg.append('defs').append('linearGradient').attr('id', gradId)
        .attr('x1', 0).attr('x2', 0).attr('y1', 1).attr('y2', 0);
    d3.range(0, 1.01, 0.1).forEach(function(t) {
        var v = ly.domain()[0] + t * (ly.domain()[1] - ly.domain()[0]);
        grad.append('stop').attr('offset', t).attr('stop-color', color(v));
    });
    svg.append('rect').attr('x', 24).attr('y', opt.legendTop)
        .attr('width', 6).attr('height', opt.legendBottom - opt.legendTop)
        .attr('fill', 'url(#' + gradId + ')');
    fitText(21, opt.legendTop - 24, 23, 144, 500, INK, 'Tariff Rate (%)');
    svg.selectAll('text.tick-' + opt.id).data(opt.ticks).join('text')
        .attr('class', 'tick-' + opt.id)
        .attr('x', 37)
        .attr('y', function(d) { return ly(d) + 8; })
        .attr('font-size', 24)
        .attr('fill', INK)
        .text(function(d) { return d; });
}

// header band
svg.append('rect').attr('width', 1000).attr('height', 115).attr('fill', '#38597a');
fitText(10, 47, 34, 785, 700, '#fff', 'The global reach of the US tariffs pre and post-pause');
fitText(10, 84, 27, 828, 400, '#fff', 'US goods tariff rates by country, before and after the 90-day pause');

fitText(9, 147, 23, 561, 700, INK, 'The tariffs before the 90-day pause, as of 9 April 2025');
fitText(9, 732, 23, 554, 700, INK, 'The tariffs after the 90-day pause, as of 10 April 2025');

drawMap({
    id: 'before', xRange: [62, 921], equator: 452,
    stops: beforeStops, colors: MAP_BLUE, lookup: rateLookup(ratesBefore),
    ticks: beforeTicks, legendTop: 417, legendBottom: 494
});
drawMap({
    id: 'after', xRange: [60.5, 924.5], equator: 1031.5,
    stops: afterStops, colors: MAP_ORANGE, lookup: new Map(ratesAfter),
    ticks: afterTicks, legendTop: 1013, legendBottom: 1090
});

// footer
var FOOT = '#4b5c6b';
fitText(11, 1309, 14.5, 770, 400, FOOT, 'Source: FXC Intelligence analysis, industry reporting. Russia, Belarus, North Korea and Cuba have not received tariffs');
fitText(11, 1328, 14.5, 737, 400, FOOT, 'due to pre-existing trade embargoes. China includes pre-existing goods tariffs and those added more recently.');

// wordmark with its little trend line over the "i"s
var LOGO = '#34587a';
var logoLine = [[857,1303],[868,1305],[882,1304],[895,1301],[905,1298]];
var logo = svg.append('g');
var wordmark = logo.append('text').attr('x', 805).attr('y', 1323)
    .attr('font-family', '"Liberation Sans", Arial, sans-serif')
    .attr('font-size', 27).attr('fill', LOGO);
wordmark.append('tspan').attr('font-weight', 700).text('FXC');
wordmark.append('tspan').attr('stroke', LOGO).attr('stroke-width', 0.5).text('intelligence');
logo.append('path').attr('d', d3.line()(logoLine)).attr('fill', 'none').attr('stroke', LOGO).attr('stroke-width', 1);
logo.selectAll('circle').data(logoLine).join('circle')
    .attr('cx', function(d) { return d[0]; }).attr('cy', function(d) { return d[1]; })
    .attr('r', 1.4).attr('fill', LOGO);
</script>
</body>
</html>
